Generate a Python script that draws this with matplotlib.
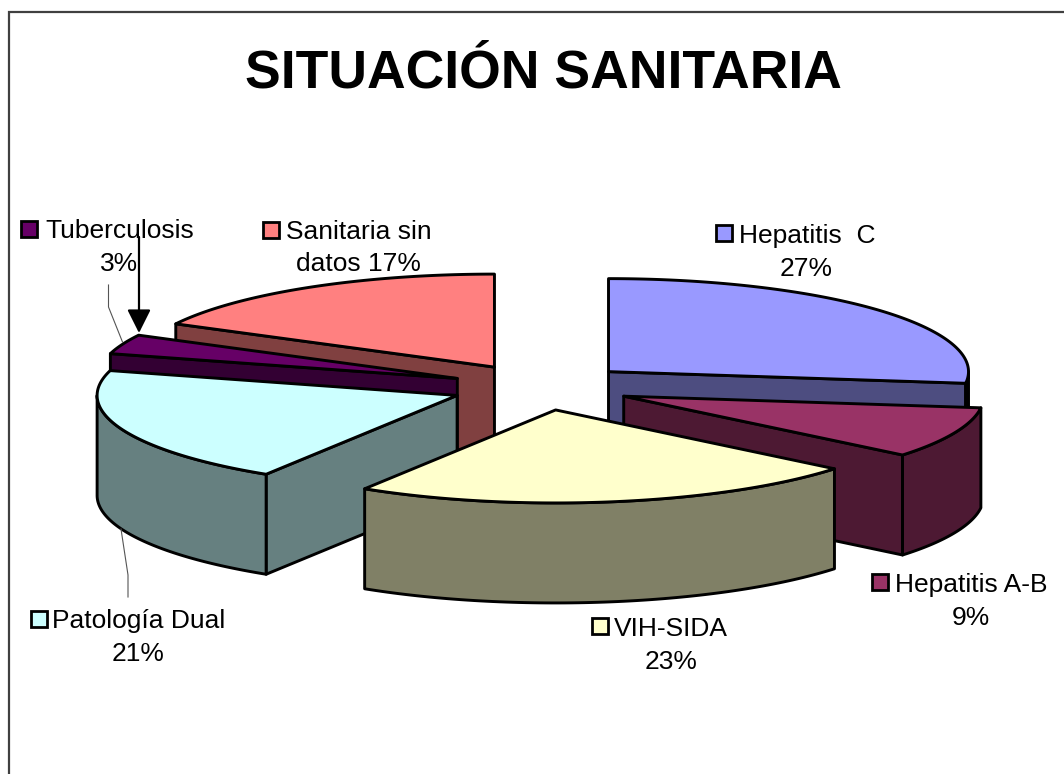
"""
Situacion sanitaria - exploded 3D pie drawn by hand
"""

import numpy as np
import matplotlib
matplotlib.use('Agg')
import matplotlib.pyplot as plt
import matplotlib.patches as patches

plt.rcParams['font.family'] = ['Liberation Sans', 'DejaVu Sans']

# data
categories = ['Hepatitis  C', 'Hepatitis A-B', 'VIH-SIDA', 'Patología Dual', 'Tuberculosis', 'Sanitaria sin']
second_lines = ['27%', '9%', '23%', '21%', '3%', 'datos 17%']
shares = [27.0, 8.9, 23.0, 20.4, 3.4, 17.3]
top_colors = ['#9999FF', '#993366', '#FFFFCC', '#CCFFFF', '#660066', '#FF8080']
side_colors = ['#4D4D80', '#4D1933', '#808066', '#668080', '#330033', '#804040']

# layout, in pixels of the figure
CX, CY = 541, 387
RX, RY = 360, 93
EXPLODE = 90
DEPTH = 100
EDGE = 2.1
draw_order = [5, 0, 1, 4, 3, 2]
swatches = [(716, 225), (872, 574), (592, 618), (31, 611), (21, 221), (263, 222)]
line1_pos = [(739, 236), (895, 585), (614, 629), (52, 621), (45, 231), (286, 232)]
line2_pos = [(806, 269), (971, 618), (671, 662), (138, 654), (119, 264), (358, 264)]


def on_ellipse(theta, cx, cy):
    # theta in degrees, clockwise from 12 o'clock
    t = np.radians(theta)
    return cx + RX * np.sin(t), cy - RY * np.cos(t)


def face(ax, xs, ys, color):
    ax.fill(xs, ys, facecolor=color, edgecolor='black', linewidth=EDGE, joinstyle='round')


def draw_slice(ax, start, end, top, side):
    mid = np.radians((start + end) / 2)
    ax_x = CX + EXPLODE * np.sin(mid)
    ax_y = CY - EXPLODE * RY / RX * np.cos(mid)

    # radial walls, only those turned to the viewer
    for theta, visible in ((start, np.sin(np.radians(start)) < 0), (end, np.sin(np.radians(end)) > 0)):
        if visible:
            ex, ey = on_ellipse(theta, ax_x, ax_y)
            face(ax, [ax_x, ex, ex, ax_x], [ax_y, ey, ey + DEPTH, ax_y + DEPTH], side)

    # curved outer wall, front half of the ellipse
    lo, hi = max(start, 90), min(end, 270)
    if hi > lo:
        x, y = on_ellipse(np.linspace(lo, hi, 80), ax_x, ax_y)
        face(ax, np.r_[x, x[::-1]], np.r_[y, y[::-1] + DEPTH], side)

    x, y = on_ellipse(np.linspace(start, end, 120), ax_x, ax_y)
    face(ax, np.r_[ax_x, x], np.r_[ax_y, y], top)


fig = plt.figure(figsize=(10.64, 7.74), dpi=100)
ax = fig.add_axes([0, 0, 1, 1])
ax.set_xlim(0, 1064)
ax.set_ylim(774, 0)
ax.axis('off')

# slide frame
ax.plot([9, 9, 1064], [774, 12, 12], color='#404040', linewidth=1.6, solid_joinstyle='miter')

ax.text(543, 74, 'SITUACIÓN SANITARIA', fontsize=38.5, fontweight='bold', ha='center', va='center')

edges = np.r_[0, np.cumsum(shares)] * 360 / sum(shares)
for i in draw_order:
    draw_slice(ax, edges[i], edges[i + 1], top_colors[i], side_colors[i])

# leader lines
ax.plot([108.5, 108.5, 122.5], [285, 307, 342], color='#555555', linewidth=0.8)
ax.plot([128, 128, 121], [597, 575, 529], color='#555555', linewidth=0.8)

for i, name in enumerate(categories):
    sx, sy = swatches[i]
    ax.add_patch(patches.Rectangle((sx, sy), 16, 16, facecolor=top_colors[i], edgecolor='black', linewidth=2))
    ax.text(line1_pos[i][0], line1_pos[i][1], name, fontsize=19, ha='left', va='center')
    ax.text(line2_pos[i][0], line2_pos[i][1], second_lines[i], fontsize=19, ha='center', va='center')

ax.annotate('', xy=(139, 333), xytext=(139, 237),
            arrowprops=dict(arrowstyle='-|>,head_length=14.4,head_width=7.2', mutation_scale=1,
                            color='black', linewidth=1.6, shrinkA=0, shrinkB=0))

plt.savefig('out.png', dpi=100)
plt.close()
